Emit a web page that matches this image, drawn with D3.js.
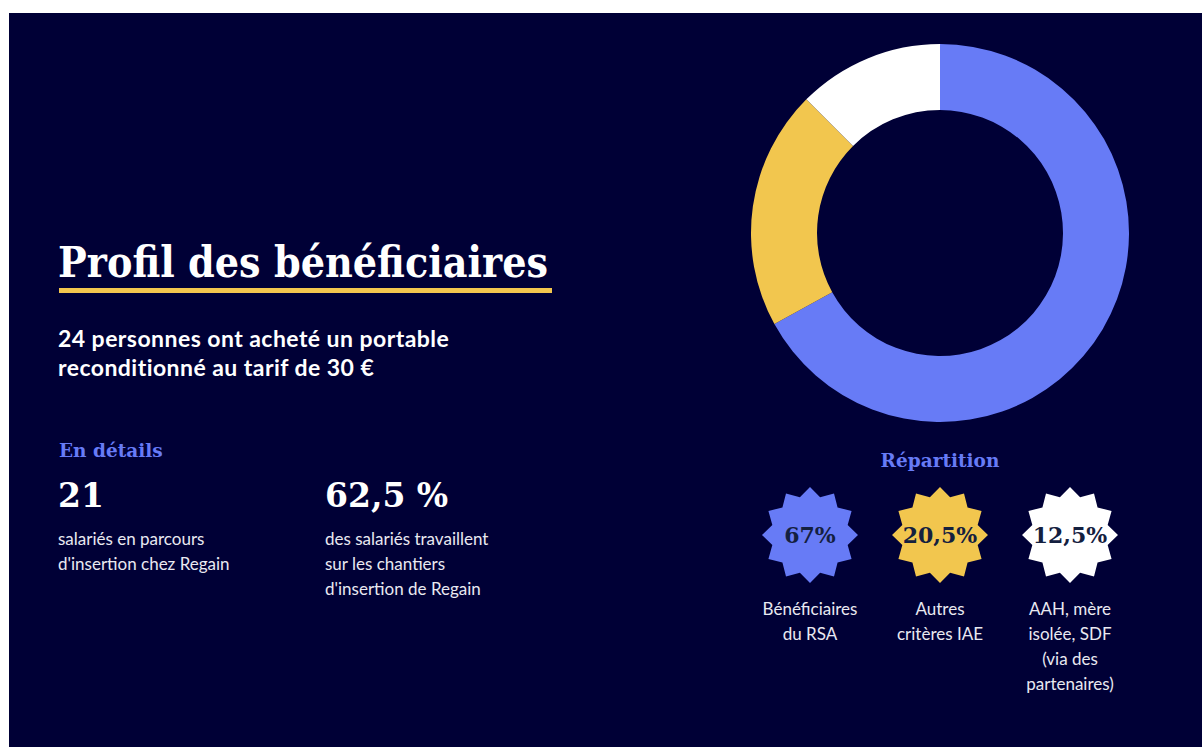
<!DOCTYPE html>
<html>
<head>
<meta charset="utf-8">
<script src="https://cdn.jsdelivr.net/npm/d3@7"></script>
<style>
  body { margin: 0; background: #fff; }
  svg { display: block; }
</style>
</head>
<body>
<div id="chart"></div>
<script>
// chart data
var categories = ["Bénéficiaires du RSA", "Autres critères IAE", "AAH, mère isolée, SDF (via des partenaires)"];
var shares = [67, 20.5, 12.5];
var shareLabels = ["67%", "20,5%", "12,5%"];
var categoryLines = [["Bénéficiaires", "du RSA"], ["Autres", "critères IAE"], ["AAH, mère", "isolée, SDF", "(via des", "partenaires)"]];
var colors = ["#677bf6", "#f2c64e", "#ffffff"];

var keyFigures = ["21", "62,5 %"];
var keyLines = [["salariés en parcours", "d'insertion chez Regain"],
                ["des salariés travaillent", "sur les chantiers", "d'insertion de Regain"]];

var title = "Profil des bénéficiaires";
var subtitle = ["24 personnes ont acheté un portable", "reconditionné au tarif de 30 €"];

var W = 1202, H = 747;
var serif = "'DejaVu Serif', serif",
    sans = "Lato, 'Noto Sans', sans-serif",
    navy = "#000036",
    textLight = "#e9e9f1";

var svg = d3.select("#chart").append("svg")
    .attr("width", W)
    .attr("height", H);

svg.append("rect")
    .attr("x", 9).attr("y", 13)
    .attr("width", W - 9).attr("height", H - 13)
    .attr("fill", navy);

// --- left block
svg.append("text")
    .attr("x", 58).attr("y", 277)
    .attr("font-family", serif).attr("font-weight", 700)
    .attr("font-size", 43).attr("fill", "#fff")
    .attr("textLength", 490).attr("lengthAdjust", "spacingAndGlyphs")
    .text(title);

svg.append("rect")
    .attr("x", 59).attr("y", 288)
    .attr("width", 493).attr("height", 5)
    .attr("fill", colors[1]);

svg.selectAll("text.sub")
    .data(subtitle)
    .enter().append("text")
    .attr("class", "sub")
    .attr("x", 58).attr("y", function(d, i) { return 347 + i * 29; })
    .attr("font-family", sans).attr("font-weight", 700)
    .attr("font-size", 23).attr("letter-spacing", 0.45).attr("fill", "#fff")
    .text(function(d) { return d; });

svg.append("text")
    .attr("x", 59).attr("y", 457)
    .attr("font-family", serif).attr("font-weight", 700)
    .attr("font-size", 18.5).attr("fill", colors[0])
    .text("En détails");

var colX = d3.scalePoint().domain(d3.range(keyFigures.length)).range([58, 325]);

var kf = svg.selectAll("g.key")
    .data(keyFigures)
    .enter().append("g")
    .attr("class", "key")
    .attr("transform", function(d, i) { return "translate(" + colX(i) + ",0)"; });

kf.append("text")
    .attr("y", 507)
    .attr("font-family", serif).attr("font-weight", 700)
    .attr("font-size", 33).attr("fill", "#fff")
    .text(function(d) { return d; });

kf.each(function(d, i) {
    d3.select(this).selectAll("text.desc")
        .data(keyLines[i])
        .enter().append("text")
        .attr("class", "desc")
        .attr("y", function(t, j) { return 545 + j * 25; })
        .attr("font-family", sans)
        .attr("font-size", 17).attr("fill", textLight)
        .text(function(t) { return t; });
});

// --- donut
var cx = 940, cy = 233;
var pie = d3.pie().sort(null).value(function(d) { return d; });
var arc = d3.arc().innerRadius(123).outerRadius(189);

svg.append("g")
    .attr("transform", "translate(" + cx + "," + cy + ")")
    .selectAll("path")
    .data(pie(shares))
    .enter().append("path")
    .attr("d", arc)
    .attr("fill", function(d, i) { return colors[i]; });

svg.append("text")
    .attr("x", cx).attr("y", 467)
    .attr("text-anchor", "middle")
    .attr("font-family", serif).attr("font-weight", 700)
    .attr("font-size", 18.5).attr("fill", colors[0])
    .text("Répartition");

// --- stars
var starX = d3.scalePoint().domain(d3.range(categories.length)).range([810, 1070]);
var nPts = 12;
var starPts = d3.range(nPts * 2).map(function(k) {
    return [k * Math.PI / nPts, k % 2 ? 39 : 48];
});
var star = d3.lineRadial().curve(d3.curveLinearClosed);

var sg = svg.selectAll("g.star")
    .data(categories)
    .enter().append("g")
    .attr("class", "star")
    .attr("transform", function(d, i) { return "translate(" + starX(i) + ",0)"; });

sg.append("path")
    .attr("transform", "translate(0,535)")
    .attr("d", star(starPts))
    .attr("fill", function(d, i) { return colors[i]; });

sg.append("text")
    .attr("y", 543)
    .attr("text-anchor", "middle")
    .attr("font-family", serif).attr("font-weight", 700)
    .attr("font-size", 22).attr("fill", "#14203f")
    .text(function(d, i) { return shareLabels[i]; });

sg.each(function(d, i) {
    d3.select(this).selectAll("text.lab")
        .data(categoryLines[i])
        .enter().append("text")
        .attr("class", "lab")
        .attr("y", function(t, j) { return 615 + j * 25; })
        .attr("text-anchor", "middle")
        .attr("font-family", sans)
        .attr("font-size", 17).attr("fill", textLight)
        .text(function(t) { return t; });
});
</script>
</body>
</html>
